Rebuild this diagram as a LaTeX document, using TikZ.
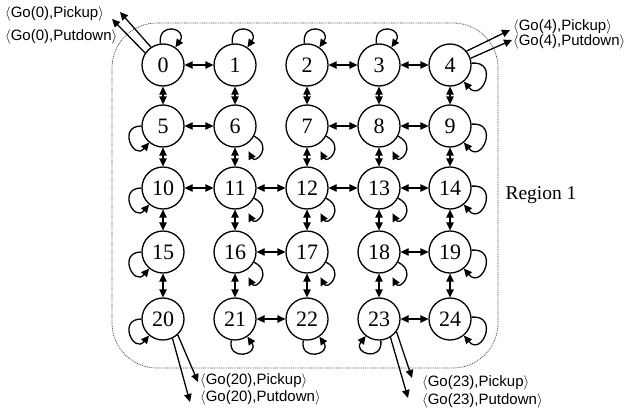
\documentclass[tikz,border=0pt]{standalone}
\usepackage{fontspec}
\setmainfont{Liberation Serif}
\newfontfamily\lblfont{Liberation Sans}
\usetikzlibrary{arrows.meta}

\tikzset{
  state/.style={circle, draw, line width=1.3bp, minimum size=42bp, inner sep=0pt,
    font=\fontsize{22bp}{24bp}\selectfont},
  tip/.tip={Triangle[length=8bp,width=7.5bp]},
  dbl/.style={tip-tip, line width=1.3bp},
  exitarrow/.style={-tip, line width=1.3bp},
  selfloop/.style={-tip, line width=1.3bp, min distance=#1},
  selfloop/.default=20bp,
  looptop/.style={selfloop=23bp, out=97, in=55},
  loopright/.style={selfloop=28bp, out=5, in=-50},
  loopshort/.style={selfloop=22bp, out=-28, in=-62, shorten >=7bp},
  loopleft/.style={selfloop=24bp, out=180, in=-130},
  loopbottom/.style={selfloop=22bp, out=-100, in=-55},
  loopbl/.style={selfloop=22bp, out=-85, in=-128},
  action/.style={anchor=west, inner sep=0pt, font=\lblfont\fontsize{15bp}{17bp}\selectfont},
  region/.style={draw=black!75, line width=0.7bp, dash pattern=on 0.9bp off 0.9bp, rounded corners=45bp},
}

\begin{document}
\begin{tikzpicture}[x=1bp, y=1bp]
  \useasboundingbox (0,0) rectangle (629,415);

  % region boundary
  \draw[region] (112,47) rectangle (498,392);
  \node[font=\fontsize{19.5bp}{22bp}\selectfont] (reg) at (541,220) {Region 1};

  % grid of states
  \foreach \r/\yy in {0/350, 1/289, 2/227, 3/163, 4/96} {
    \foreach \c/\xx in {0/163, 1/235, 2/307, 3/379, 4/450} {
      \pgfmathtruncatemacro{\k}{5*\r+\c}
      \node[state] (n\k) at (\xx,\yy) {\k};
    }
  }

  % horizontal moves
  \foreach \a/\b in {0/1, 2/3, 3/4, 5/6, 7/8, 8/9, 10/11, 11/12, 12/13, 13/14,
                     16/17, 18/19, 21/22, 23/24}
    \draw[dbl] (n\a) -- (n\b);

  % vertical moves
  \foreach \a in {0,...,19} {
    \pgfmathtruncatemacro{\b}{\a+5}
    \draw[dbl] (n\a) -- (n\b);
  }

  % self loops
  \foreach \k in {0,1,2,3} \draw[looptop] (n\k) to (n\k);
  \foreach \k in {4,9,14,19,24} \draw[loopright] (n\k) to (n\k);
  \foreach \k in {6,7,8,11,12,13,16,17,18} \draw[loopshort] (n\k) to (n\k);
  \foreach \k in {5,10,15,20} \draw[loopleft] (n\k) to (n\k);
  \foreach \k in {21,22} \draw[loopbottom] (n\k) to (n\k);
  \draw[loopbl] (n23) to (n23);

  % exits from state 0
  \coordinate (e0a) at (120,403);
  \coordinate (e0b) at (112,396);
  \draw[exitarrow] (n0.124) -- (e0a);
  \draw[exitarrow] (n0.146) -- (e0b);
  \node[action] (l0a) at (5,401.5) {$\langle$Go(0),Pickup$\rangle$};
  \node[action] (l0b) at (5,378.5) {$\langle$Go(0),Putdown$\rangle$};

  % exits from state 4
  \coordinate (e4a) at (510,385);
  \coordinate (e4b) at (512,375);
  \draw[exitarrow] (n4.40) -- (e4a);
  \draw[exitarrow] (n4.18) -- (e4b);
  \node[action] (l4a) at (513,388.5) {$\langle$Go(4),Pickup$\rangle$};
  \node[action] (l4b) at (513,373.5) {$\langle$Go(4),Putdown$\rangle$};

  % exits from state 20
  \coordinate (e20a) at (198,33);
  \coordinate (e20b) at (190,13);
  \draw[exitarrow] (n20.-47) -- (e20a);
  \draw[exitarrow] (n20.-64) -- (e20b);
  \node[action] (l20a) at (200,34) {$\langle$Go(20),Pickup$\rangle$};
  \node[action] (l20b) at (200,17.5) {$\langle$Go(20),Putdown$\rangle$};

  % exits from state 23
  \coordinate (e23a) at (412,37);
  \coordinate (e23b) at (408,17);
  \draw[exitarrow] (n23.-36) -- (e23a);
  \draw[exitarrow] (n23.-58) -- (e23b);
  \node[action] (l23a) at (422,32.5) {$\langle$Go(23),Pickup$\rangle$};
  \node[action] (l23b) at (422,14) {$\langle$Go(23),Putdown$\rangle$};
\end{tikzpicture}
\end{document}
